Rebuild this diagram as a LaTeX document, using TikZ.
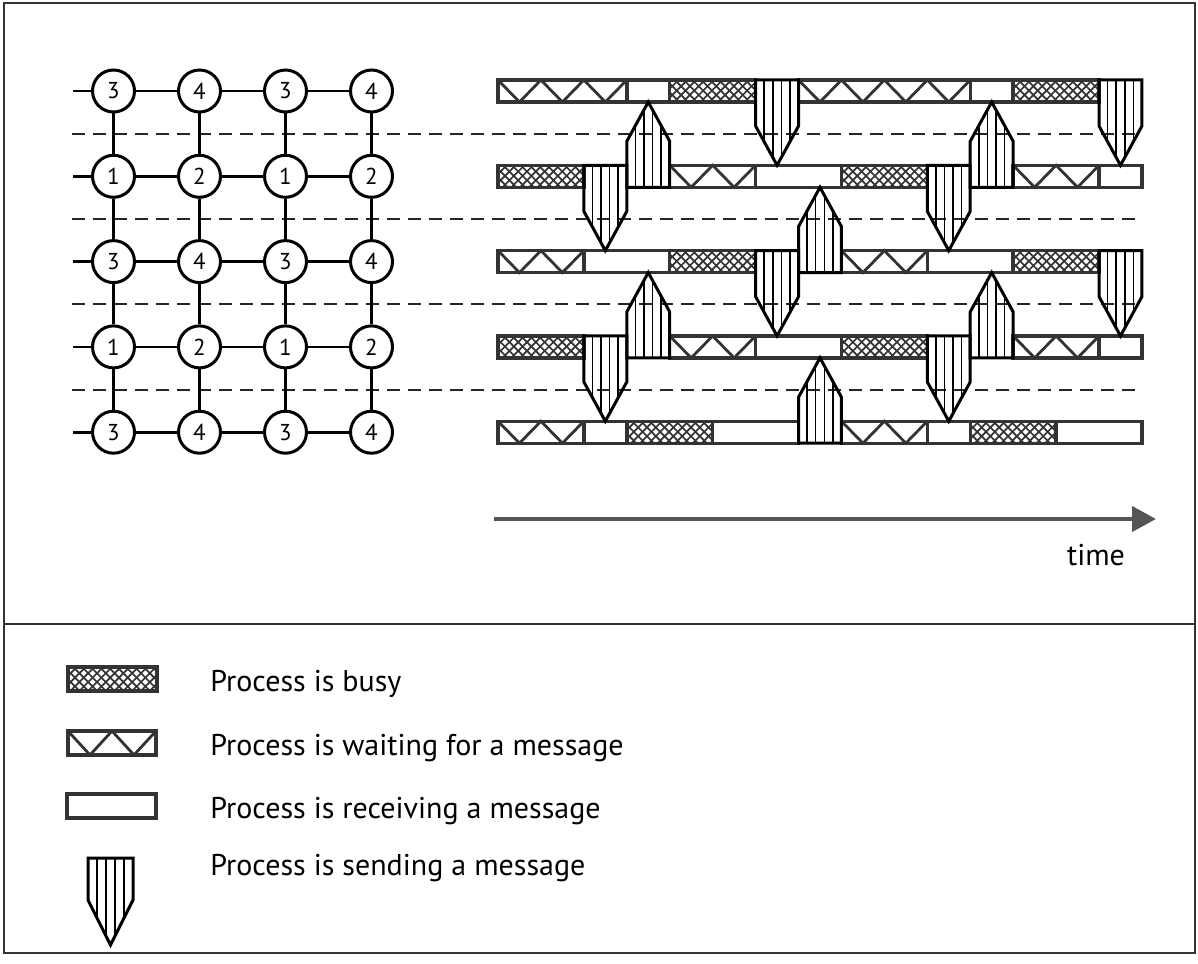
\documentclass[tikz,border=0pt]{standalone}
\usepackage{fontspec}
\setmainfont{PT Sans}
\usepackage{tikz}
\usetikzlibrary{arrows.meta}
\definecolor{inkgray}{HTML}{333333}
\definecolor{arrowgray}{HTML}{555555}

\tikzset{
  segline/.style={draw=inkgray, line width=1.7pt, line join=miter},
  zigline/.style={draw=inkgray, line width=1.4pt},
  hatchline/.style={draw=inkgray, line width=0.85pt},
  stripeline/.style={draw=black, line width=0.75pt},
  sendline/.style={draw=black, line width=1.5pt, line join=miter},
  pe/.style={circle, draw=black, line width=1.5pt, minimum size=21pt,
    inner sep=0pt, font=\fontsize{11.5}{13}\selectfont},
  meshline/.style={draw=black, line width=1.3pt},
  sepline/.style={draw=black!85, line width=1pt, dash pattern=on 6.5pt off 4pt},
  legtext/.style={font=\fontsize{15}{18}\selectfont, inner sep=0pt},
}

% busy slot: cross hatched box (x1,y1,x2,y2)
\newcommand{\busybox}[4]{%
  \begin{scope}
    \clip (#1,#2) rectangle (#3,#4);
    \pgfmathsetmacro\hatchA{#1-30}
    \pgfmathsetmacro\hatchB{#1-30+8.8}
    \foreach \hx in {\hatchA,\hatchB,...,#3}
      \draw[hatchline] (\hx,#2) -- ++(30,30) ({\hx+30},#2) -- ++(-30,30);
  \end{scope}
  \draw[segline] (#1,#2) rectangle (#3,#4);
}
% waiting slot: zigzag box with #5 V's
\newcommand{\waitbox}[5]{%
  \pgfmathsetmacro\vwid{(#3-#1)/#5}
  \draw[zigline] (#1,#2) \foreach \v in {1,...,#5} {
    -- ({#1+(\v-0.5)*\vwid},#4) -- ({#1+\v*\vwid},#2) };
  \draw[segline] (#1,#2) rectangle (#3,#4);
}
% receiving slot: empty box
\newcommand{\recvbox}[4]{\draw[segline, fill=white] (#1,#2) rectangle (#3,#4);}
% sending slot: striped arrow (x1,x2,base,shoulder,tip)
\newcommand{\sendshape}[5]{%
  \pgfmathsetmacro\sgap{(#2-#1)/5}
  \begin{scope}
    \clip (#1,#3) -- (#1,#4) -- ({(#1+#2)/2},#5) -- (#2,#4) -- (#2,#3) -- cycle;
    \foreach \k in {1,...,4}
      \draw[stripeline] ({#1+\k*\sgap},#3) -- ({#1+\k*\sgap},#5);
  \end{scope}
  \draw[sendline] (#1,#3) -- (#1,#4) -- ({(#1+#2)/2},#5) -- (#2,#4) -- (#2,#3) -- cycle;
}

\begin{document}
\begin{tikzpicture}[x=0.5pt, y=-0.5pt]
  \useasboundingbox (0,0) rectangle (1198,963);
  % all lengths in pixels of the 1198 x 963 sheet
  \def\xo{498}       % start of the time lines
  \def\ux{42.93}     % one time slot
  \def\bartop{80}    % top edge of the first bar
  \def\barh{22}      % bar height
  \def\rowpitch{85.3}
  \def\gx{113.5}  \def\gdx{86}

  % frame and divider
  \draw[line width=1pt, inkgray] (4,3) rectangle (1195,953);
  \draw[line width=1pt, inkgray] (4,624) -- (1195,624);

  % dashed separators
  \foreach \k in {1,...,4}
    \draw[sepline] (72,{\bartop+\barh/2+(\k-0.5)*\rowpitch})
      -- (1142,{\bartop+\barh/2+(\k-0.5)*\rowpitch});

  % processor mesh
  \foreach \r in {1,...,5}
    \foreach \c in {1,...,4} {
      \pgfmathtruncatemacro\lab{2*mod(\r,2)+2-mod(\c,2)}
      \node[pe] (p\r\c) at ({\gx+(\c-1)*\gdx},{\bartop+\barh/2+(\r-1)*\rowpitch}) {\lab};
    }
  \foreach \r in {1,...,5} {
    \coordinate (s\r) at (73,{\bartop+\barh/2+(\r-1)*\rowpitch});
    \draw[meshline] (s\r) -- (p\r1);
    \foreach \c [evaluate=\c as \cn using int(\c+1)] in {1,2,3}
      \draw[meshline] (p\r\c) -- (p\r\cn);
  }
  \foreach \r [evaluate=\r as \rn using int(\r+1)] in {1,...,4}
    \foreach \c in {1,...,4}
      \draw[meshline] (p\r\c) -- (p\rn\c);

  % waiting
  \foreach \r/\a/\b in {1/0/3, 1/7/11, 2/4/6, 2/12/14, 3/0/2, 3/8/10,
                        4/4/6, 4/12/14, 5/0/2, 5/8/10} {
    \pgfmathsetmacro\xa{\xo+\a*\ux}
    \pgfmathsetmacro\xb{\xo+\b*\ux}
    \pgfmathsetmacro\ya{\bartop+(\r-1)*\rowpitch}
    \pgfmathsetmacro\yb{\ya+\barh}
    \pgfmathtruncatemacro\nv{\b-\a}
    \waitbox{\xa}{\ya}{\xb}{\yb}{\nv}
  }
  % receiving
  \foreach \r/\a/\b in {1/3/4, 1/11/12, 2/6/8, 2/14/15, 3/2/4, 3/10/12,
                        4/6/8, 4/14/15, 5/2/3, 5/5/7, 5/10/11, 5/13/15} {
    \pgfmathsetmacro\xa{\xo+\a*\ux}
    \pgfmathsetmacro\xb{\xo+\b*\ux}
    \pgfmathsetmacro\ya{\bartop+(\r-1)*\rowpitch}
    \pgfmathsetmacro\yb{\ya+\barh}
    \recvbox{\xa}{\ya}{\xb}{\yb}
  }
  % busy
  \foreach \r/\a/\b in {1/4/6, 1/12/14, 2/0/2, 2/8/10, 3/4/6, 3/12/14,
                        4/0/2, 4/8/10, 5/3/5, 5/11/13} {
    \pgfmathsetmacro\xa{\xo+\a*\ux}
    \pgfmathsetmacro\xb{\xo+\b*\ux}
    \pgfmathsetmacro\ya{\bartop+(\r-1)*\rowpitch}
    \pgfmathsetmacro\yb{\ya+\barh}
    \busybox{\xa}{\ya}{\xb}{\yb}
  }
  % sending down to the next row
  \foreach \r/\a in {1/6, 1/14, 2/2, 2/10, 3/6, 3/14, 4/2, 4/10} {
    \pgfmathsetmacro\xa{\xo+\a*\ux}
    \pgfmathsetmacro\xb{\xa+\ux}
    \pgfmathsetmacro\ya{\bartop+(\r-1)*\rowpitch}
    \sendshape{\xa}{\xb}{\ya}{\ya+\barh+24}{\ya+\rowpitch}
  }
  % sending up to the row above
  \foreach \r/\a in {2/3, 2/11, 3/7, 4/3, 4/11, 5/7} {
    \pgfmathsetmacro\xa{\xo+\a*\ux}
    \pgfmathsetmacro\xb{\xa+\ux}
    \pgfmathsetmacro\ya{\bartop+(\r-1)*\rowpitch+\barh}
    \sendshape{\xa}{\xb}{\ya}{\ya-\barh-24}{\ya-\rowpitch}
  }

  % time axis
  \coordinate (t0) at (494,519);
  \coordinate (t1) at (1156,519);
  \draw[line width=2pt, arrowgray, -{Triangle[length=12pt, width=12.5pt]}] (t0) -- (t1);
  \node[legtext, anchor=base] (tlab) at (1096,565) {time};

  % legend
  \busybox{68}{667}{157}{691}
  \waitbox{68}{731}{156}{755}{2}
  \recvbox{67}{794}{156}{818}
  \sendshape{88}{133}{858}{900}{945}
  \node[legtext, anchor=base west] (lbusy) at (210,691) {Process is busy};
  \node[legtext, anchor=base west] (lwait) at (210,755) {Process is waiting for a message};
  \node[legtext, anchor=base west] (lrecv) at (210,818) {Process is receiving a message};
  \node[legtext, anchor=base west] (lsend) at (210,875) {Process is sending a message};
\end{tikzpicture}
\end{document}
